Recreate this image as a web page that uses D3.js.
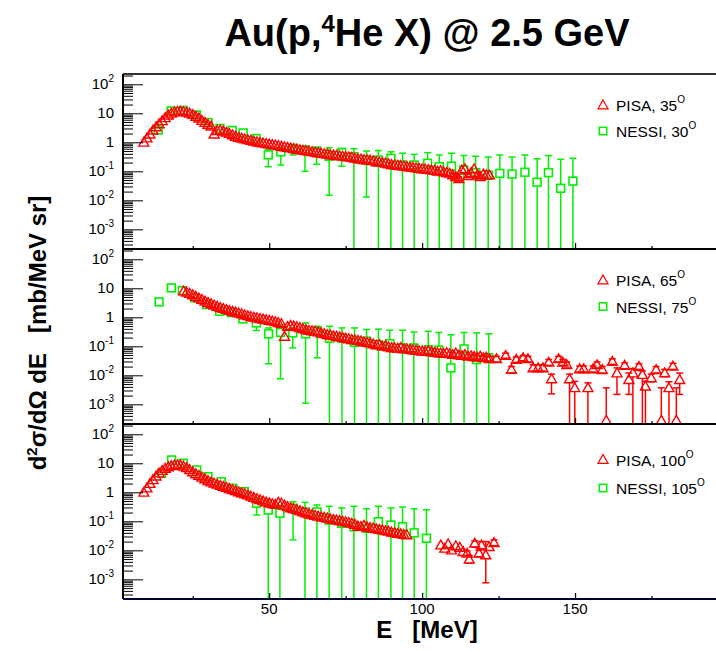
<!DOCTYPE html>
<html>
<head>
<meta charset="utf-8">
<script src="https://cdn.jsdelivr.net/npm/d3@7"></script>
<style>
  body { margin: 0; background: #fff; }
  svg { display: block; font-family: "Liberation Sans", Arial, sans-serif; }
</style>
</head>
<body>
<svg id="chart" width="716" height="651"></svg>
<script>
'use strict';

// ---- data: [E (MeV), d2sigma, errLow, errHigh] ----
// errLow = 0 means the bar runs off the bottom of the log axis

const pisa35 = [
  [9,1.0],[10,1.4],[11,1.9],[12,2.6],[13,3.4],[14,4.3],[15,5.5],[16,7.0],[17,8.6],[18,10.0],
  [19,11.0],[20,11.5],[21,11.6],[22,11.3],[23,10.8],[24,10.0],[25,9.0],[26,7.8],[27,6.8],[28,5.6],
  [29,4.8],[30,4.1],[31,3.6],[32,1.9],[33,2.5],[34,2.6],[35,2.4],[36,2.2],[37,2.0],[38,1.8],
  [39,1.6],[40,1.45],[41,1.38],[42,1.3],[43,1.22],[44,1.15],[45,1.08],[46,1.03],[47,0.98],[48,0.94],
  [49,0.9],[50,0.87],[51,0.83],[52,0.8],[53,0.76],[54,0.72],[55,0.69],[56,0.66],[57,0.63],[58,0.6],
  [59,0.57],[60,0.55],[61,0.53],[62,0.51],[63,0.49],[64,0.47],[65,0.45],[66,0.43],[67,0.42],[68,0.4],
  [69,0.39],[70,0.37],[71,0.36],[72,0.35],[73,0.34],[74,0.33],[75,0.32],[76,0.31],[77,0.3],[78,0.28],
  [79,0.27],[80,0.26],[81,0.25],[82,0.245],[83,0.24],[84,0.23],[85,0.21],[86,0.205],[87,0.2],[88,0.19],
  [89,0.18],[90,0.17],[91,0.165],[92,0.16],[93,0.155],[94,0.15],[95,0.145],[96,0.14],[97,0.135],[98,0.13],
  [99,0.125],[100,0.12],[101,0.118],[102,0.115],[103,0.11],[104,0.108],[105,0.1],[106,0.105],[107,0.095],
  [108,0.09],[109,0.085],[110,0.075,0.065,0.086],[111,0.065,0.055,0.075],[112,0.055,0.046,0.064],
  [113,0.11],[114,0.12],[115,0.07,0.06,0.08],[116,0.09],[117,0.12],[118,0.075,0.062,0.088],
  [119,0.065,0.055,0.076],[120,0.08],[121,0.075],[122,0.074]
];

const nessi30 = [
  [13.7,2.65],[17.9,12],[21.9,12.5],[26.2,8.7],[30.0,4.8],[33.9,3.0],[37.9,2.55],[41.5,2.1],[45.7,1.35],
  [49.7,0.37,0.144,0.58],[53.8,0.47,0.165,0.67],[57.8,0.62,0.365,0.75],[61.7,0.55,0.10,0.7],
  [65.5,0.5,0.175,0.65],[69.6,0.33,0.015,0.65],[73.7,0.45,0.15,0.6],[77.7,0.32,0,0.6],
  [81.8,0.245,0.013,0.5],[85.7,0.245,0,0.52],[89.8,0.28,0,0.47],[93.6,0.165,0,0.42],
  [97.4,0.165,0,0.385],[101.8,0.19,0,0.44],[105.6,0.144,0,0.365],[109.6,0.15,0,0.42],
  [113.6,0.111,0,0.35],[117.5,0.09,0,0.33],[121.6,0.074,0,0.31],[125.4,0.085,0,0.365],
  [129.4,0.08,0,0.31],[133.6,0.093,0,0.365],[137.6,0.042,0,0.27],[141.3,0.09,0,0.35],
  [145.3,0.026,0,0.26],[149.3,0.046,0,0.28]
];

const pisa65 = [
  [22,8.0],[23,7.3],[24,6.6],[25,5.9],[26,5.2],[27,4.6],[28,4.1],[29,3.6],[30,3.2],[31,2.9],
  [32,2.6],[33,2.35],[34,2.15],[35,2.0],[36,1.85],[37,1.7],[38,1.6],[39,1.5],[40,1.4],[41,1.3],
  [42,1.2],[43,1.12],[44,1.05],[45,1.0],[46,0.95],[47,0.9],[48,0.86],[49,0.82],[50,0.78],[51,0.74],
  [52,0.7],[53,0.65],[54,0.6],[55,0.22],[56,0.48],[57,0.52],[58,0.5],[59,0.47],[60,0.44],[61,0.4],
  [62,0.37],[63,0.35],[64,0.34],[65,0.33],[66,0.31],[67,0.29],[68,0.27],[69,0.25],[70,0.24],[71,0.23],
  [72,0.22],[73,0.21],[74,0.2],[75,0.19],[76,0.18],[77,0.17],[78,0.165],[79,0.16],[80,0.15],[81,0.14],
  [82,0.135],[83,0.13],[84,0.12],[85,0.11],[86,0.115],[87,0.1],[88,0.105],[89,0.095],[90,0.09],
  [91,0.088],[92,0.085],[93,0.09],[94,0.08],[95,0.082],[96,0.078],[97,0.075],[98,0.072],[99,0.07],
  [100,0.068],[101,0.066],[102,0.07],[103,0.064],[104,0.062],[105,0.06],[106,0.058],[107,0.056],
  [108,0.06],[109,0.055],[110,0.052,0.042,0.062],[111,0.058],[112,0.05],[113,0.048],[114,0.052],
  [115,0.045],[116,0.047],[117,0.044,0.035,0.053],[118,0.042],[119,0.045],[120,0.04,0.032,0.048],
  [121,0.042],[122,0.037,0.03,0.045],[124.3,0.037,0.029,0.045],[127.3,0.048,0.039,0.058],
  [129.2,0.016,0.012,0.02],[130.8,0.035,0.028,0.043],[133,0.04,0.032,0.048],[134.6,0.037,0.029,0.045],
  [136.3,0.018,0.014,0.023],[137.9,0.018,0.014,0.023],[139.5,0.018,0.014,0.023],[141.4,0.028,0.022,0.035],
  [142.3,0.0075,0.0023,0.011],[144.6,0.037,0.029,0.045],[146,0.028,0.022,0.035],[147.3,0.023,0.018,0.029],
  [148.2,0.0075,0,0.011],[149.9,0.0037,0,0.0062],[151.5,0.0166,0.013,0.021],[152.8,0.0166,0.013,0.021],
  [154.2,0.0037,0,0.0055],[155.9,0.0166,0.013,0.021],[157.2,0.023,0.018,0.029],[158.9,0.0157,0.012,0.02],
  [160.2,0.00028,0,0.0037],[162.2,0.03,0.024,0.037],[163.7,0.012,0.0022,0.018],[166.2,0.022,0.017,0.027],
  [167.6,0.0071,0.0022,0.012],[168.9,0.012,0,0.017],[170.9,0.02,0.016,0.025],[172,0.0106,0,0.014],
  [173,0.0042,0,0.0062],[174.9,0.0081,0.006,0.011],[176.5,0.0157,0.012,0.02],[178.2,0.00028,0,0.0037],
  [179.3,0.012,0.009,0.016],[180.7,0.0037,0,0.006],[182,0.0205,0.016,0.026],[183.1,0.00028,0,0.0037],
  [184.2,0.0071,0.0022,0.012]
];

const nessi75 = [
  [14,3.4],[18,10.3],[21.6,8.3],[25.6,4.7],[29.5,2.75],[33.8,1.6],[37.6,1.45],[41.4,0.88],
  [45.8,0.64,0.35,0.83],[49.8,0.27,0.025,0.43],[53.7,0.3,0.0076,0.56],[57.7,0.29,0.088,0.43],
  [61.9,0.27,0.0011,0.64],[65.7,0.33,0.04,0.49],[69.7,0.19,0,0.49],[73.8,0.19,0,0.43],
  [77.9,0.137,0,0.43],[81.8,0.15,0,0.38],[85.7,0.114,0,0.39],[89.4,0.124,0,0.36],[93.6,0.088,0,0.36],
  [97.3,0.088,0,0.31],[102,0.077,0,0.33],[105.5,0.074,0,0.3],[109.4,0.018,0,0.25],[113.7,0.081,0,0.3],
  [117.8,0.035,0,0.29],[121.8,0.04,0,0.27]
];

const pisa100 = [
  [9,1.0],[10,1.4],[11,2.0],[12,2.7],[13,3.6],[14,4.6],[15,5.6],[16,6.6],[17,7.5],[18,8.2],
  [19,8.6],[20,8.7],[21,8.5],[22,7.9],[23,7.0],[24,6.0],[25,5.0],[26,4.3],[27,3.8],[28,3.3],
  [29,2.9],[30,2.5],[31,2.25],[32,2.05],[33,1.88],[34,1.72],[35,1.58],[36,1.45],[37,1.33],[38,1.22],
  [39,1.12],[40,1.03],[41,0.95],[42,0.88],[43,0.8],[44,0.73],[45,0.66],[46,0.6],[47,0.55],[48,0.5],
  [49,0.46],[50,0.43],[51,0.4],[52,0.38],[53,0.45],[54,0.42],[55,0.36],[56,0.32],[57,0.29],[58,0.27],
  [59,0.25],[60,0.23],[61,0.21],[62,0.195],[63,0.18],[64,0.17],[65,0.16],[66,0.15],[67,0.14],[68,0.135],
  [69,0.128],[70,0.12],[71,0.115],[72,0.11],[73,0.105],[74,0.1],[75,0.095],[76,0.09],[77,0.085],[78,0.078],
  [79,0.068],[80,0.066],[81,0.072],[82,0.063],[83,0.06],[84,0.058],[85,0.055],[86,0.052],[87,0.05],[88,0.047],
  [89,0.045],[90,0.042],[91,0.04],[92,0.038],[93,0.037],[94,0.035],[95,0.034],
  [106.1,0.0152],[107.4,0.0117],[108.5,0.0165],[109.6,0.0102],[111,0.0141],[112.3,0.0126],
  [113.4,0.009],[114.7,0.0079,0.0065,0.0095],[115.4,0.0049,0.0036,0.0066],[117.2,0.0174,0.013,0.021],
  [118.6,0.0079,0.006,0.01],[119.4,0.0152,0.011,0.02],[120.8,0.0069,0.00076,0.02],[121.9,0.0133],
  [123.5,0.0183,0.0145,0.023]
];

const nessi105 = [
  [14.8,4.5],[18.1,13],[21.9,10],[26.3,5.9],[30,3.45],[34.3,2.3],[38.1,1.37],[41.9,1.05],
  [45.9,0.42,0.165,0.62],[49.7,0.245,0,0.54],[53.5,0.19,0,0.365],[57.8,0.28,0.023,0.47],
  [61.7,0.21,0,0.45],[65.6,0.21,0,0.365],[69.6,0.11,0,0.33],[73.7,0.085,0,0.29],[77.7,0.065,0,0.33],
  [81.8,0.057,0,0.27],[85.7,0.097,0,0.33],[89.8,0.074,0,0.29],[93.6,0.065,0,0.31],[97.4,0.04,0,0.27],
  [101.4,0.026,0,0.25]
];

const pisaAngles = ['35', '65', '100'];
const nessiAngles = ['30', '75', '105'];
const xTicks = [50, 100, 150];
const xMinorTicks = [25, 75, 125, 175];
const yDecades = [-3, -2, -1, 0, 1, 2];

// ---- layout ----
const W = 716, H = 651;
const frameLeft = 123, frameRight = 728;
const panelTops = [74, 249, 424];
const panelH = 175;
const legendOffsets = [[31, 57], [31, 57.5], [35.5, 64]];
const RED = '#ff0000', GREEN = '#00f000';

const panels = [
  { pisa: pisa35, nessi: nessi30 },
  { pisa: pisa65, nessi: nessi75 },
  { pisa: pisa100, nessi: nessi105 }
].map((p, i) => Object.assign(p, { top: panelTops[i], pAng: pisaAngles[i], nAng: nessiAngles[i] }));

const svg = d3.select('#chart');
svg.append('rect').attr('width', W).attr('height', H).attr('fill', '#fff');

const x = d3.scaleLinear().domain([2.2, 200]).range([frameLeft, frameRight]);

function triPath(cx, cy) {
  return 'M' + cx + ',' + (cy - 5) + 'L' + (cx + 5) + ',' + (cy + 3.8) + 'L' + (cx - 5) + ',' + (cy + 3.8) + 'Z';
}

// text with a raised small part
function supText(sel, base, sup, supSize, rise) {
  sel.append('tspan').text(base);
  if (sup) {
    sel.append('tspan').attr('font-size', supSize).attr('dy', -rise).text(sup);
  }
  return sel;
}

panels.forEach((p, i) => {
  const top = p.top, bottom = top + panelH;
  const y = d3.scaleLog().domain([2.1e-4, 226]).range([bottom, top]);
  const yOf = v => (v > 0 ? y(v) : bottom + 20);

  const clipId = 'clip' + i;
  svg.append('clipPath').attr('id', clipId)
    .append('rect').attr('x', frameLeft).attr('y', top).attr('width', W - frameLeft).attr('height', panelH);

  const g = svg.append('g').attr('clip-path', 'url(#' + clipId + ')');

  // error bars (line split around the marker, cap at each bounded end)
  function drawErrors(data, color, gap) {
    const eg = g.append('g').attr('stroke', color).attr('stroke-width', 1.5).attr('fill', 'none');
    data.filter(d => d.length > 2).forEach(d => {
      const cx = x(d[0]), cy = y(d[1]);
      const yHi = y(d[3]), yLo = yOf(d[2]);
      if (yHi < cy - gap) {
        eg.append('line').attr('x1', cx).attr('x2', cx).attr('y1', yHi).attr('y2', cy - gap);
      }
      eg.append('line').attr('x1', cx - 3.5).attr('x2', cx + 3.5).attr('y1', yHi).attr('y2', yHi);
      if (yLo > cy + gap) {
        eg.append('line').attr('x1', cx).attr('x2', cx).attr('y1', cy + gap).attr('y2', yLo);
      }
      if (d[2] > 0) {
        eg.append('line').attr('x1', cx - 3.5).attr('x2', cx + 3.5).attr('y1', yLo).attr('y2', yLo);
      }
    });
  }

  drawErrors(p.nessi, GREEN, 3.9);
  g.append('g').selectAll('rect')
    .data(p.nessi).enter().append('rect')
    .attr('x', d => x(d[0]) - 3.9)
    .attr('y', d => y(d[1]) - 3.9)
    .attr('width', 7.8).attr('height', 7.8)
    .attr('fill', 'none').attr('stroke', GREEN).attr('stroke-width', 1.6);

  drawErrors(p.pisa, RED, 3.8);
  g.append('g').selectAll('path')
    .data(p.pisa).enter().append('path')
    .attr('d', d => triPath(x(d[0]), y(d[1])))
    .attr('fill', 'none').attr('stroke', RED).attr('stroke-width', 1.4);

  // y axis ticks, inward
  const majors = yDecades.map(k => Math.pow(10, k));
  const minors = [];
  for (let k = -4; k <= 2; k++) {
    for (let m = 2; m <= 9; m++) {
      const v = m * Math.pow(10, k);
      if (v >= 2.1e-4 && v <= 226) minors.push(v);
    }
  }
  const yAxisG = svg.append('g').attr('transform', 'translate(' + frameLeft + ',0)');
  yAxisG.call(d3.axisRight(y).tickValues(majors).tickSize(20).tickFormat(''));
  const yMinorG = svg.append('g').attr('transform', 'translate(' + frameLeft + ',0)');
  yMinorG.call(d3.axisRight(y).tickValues(minors).tickSize(10).tickFormat(''));
  [yAxisG, yMinorG].forEach(a => {
    a.select('.domain').remove();
    a.selectAll('line').attr('stroke', '#000').attr('stroke-width', 1);
  });

  // y tick labels
  yDecades.forEach(k => {
    const t = svg.append('text')
      .attr('x', 114).attr('y', y(Math.pow(10, k)) + 5)
      .attr('text-anchor', 'end').attr('font-size', 15).attr('fill', '#000');
    if (k === 0) supText(t, '1');
    else if (k === 1) supText(t, '10');
    else supText(t, '10', String(k), 10, 7);
  });

  // x axis ticks, pointing up from the panel bottom
  const xAxisG = svg.append('g').attr('transform', 'translate(0,' + bottom + ')');
  xAxisG.call(d3.axisTop(x).tickValues(xTicks).tickSize(6).tickFormat(''));
  const xMinorG = svg.append('g').attr('transform', 'translate(0,' + bottom + ')');
  xMinorG.call(d3.axisTop(x).tickValues(xMinorTicks).tickSize(3).tickFormat(''));
  [xAxisG, xMinorG].forEach(a => {
    a.select('.domain').remove();
    a.selectAll('line').attr('stroke', '#000').attr('stroke-width', 1.2);
  });

  // frame lines
  svg.append('line').attr('x1', frameLeft).attr('x2', W).attr('y1', top).attr('y2', top)
    .attr('stroke', i === 0 ? '#333' : '#000').attr('stroke-width', 2);
  if (i === panels.length - 1) {
    svg.append('line').attr('x1', frameLeft).attr('x2', W).attr('y1', bottom).attr('y2', bottom)
      .attr('stroke', '#000033').attr('stroke-width', 2);
  }

  // legend
  const lo = legendOffsets[i];
  svg.append('path').attr('d', triPath(603, top + lo[0]))
    .attr('fill', 'none').attr('stroke', RED).attr('stroke-width', 1.3);
  svg.append('rect').attr('x', 603 - 3.7).attr('y', top + lo[1] - 3.7).attr('width', 7.4).attr('height', 7.4)
    .attr('fill', 'none').attr('stroke', GREEN).attr('stroke-width', 1.5);
  supText(svg.append('text').attr('x', 616).attr('y', top + lo[0] + 6).attr('font-size', 15.5),
    'PISA, ' + p.pAng, 'O', 10, 8);
  supText(svg.append('text').attr('x', 616).attr('y', top + lo[1] + 6).attr('font-size', 15.5),
    'NESSI, ' + p.nAng, 'O', 10, 8);
});

// left frame line
svg.append('line').attr('x1', frameLeft).attr('x2', frameLeft)
  .attr('y1', panelTops[0]).attr('y2', panelTops[2] + panelH)
  .attr('stroke', '#000').attr('stroke-width', 2);

// x tick labels under the bottom panel
const lastBottom = panelTops[2] + panelH;
svg.append('g').selectAll('text')
  .data(xTicks).enter().append('text')
  .attr('x', d => x(d)).attr('y', lastBottom + 15)
  .attr('text-anchor', 'middle').attr('font-size', 15)
  .text(d => d);

// axis titles
svg.append('text')
  .attr('x', 427).attr('y', 638)
  .attr('text-anchor', 'middle').attr('font-size', 24).attr('font-weight', 'bold')
  .attr('xml:space', 'preserve').style('white-space', 'pre')
  .text('E   [MeV]');

const yTitle = svg.append('text')
  .attr('transform', 'translate(46,333) rotate(-90)')
  .attr('text-anchor', 'middle').attr('font-size', 24).attr('font-weight', 'bold')
  .style('white-space', 'pre');
yTitle.append('tspan').text('d');
yTitle.append('tspan').attr('font-size', 15).attr('dy', -9).text('2');
yTitle.append('tspan').attr('dy', 9).text('σ/dΩ dE   [mb/MeV sr]');

// title
const title = svg.append('text')
  .attr('x', 427).attr('y', 46)
  .attr('text-anchor', 'middle').attr('font-size', 38).attr('font-weight', 'bold');
title.append('tspan').text('Au(p,');
title.append('tspan').attr('font-size', 24).attr('dy', -14).text('4');
title.append('tspan').attr('dy', 14).text('He X) @ 2.5 GeV');
</script>
</body>
</html>
